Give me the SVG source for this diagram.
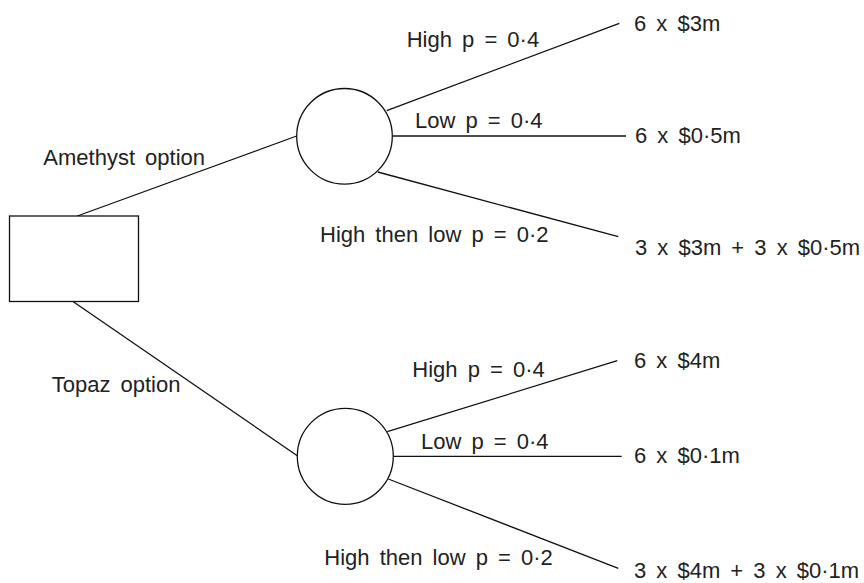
<svg xmlns="http://www.w3.org/2000/svg" width="864" height="583" viewBox="0 0 864 583">
<style>
.s{fill:#fff;stroke:#111;stroke-width:1.3}
.c line{stroke:#111;stroke-width:1.3}
text{font-family:"Liberation Sans",Arial,sans-serif;font-size:22px;fill:#222;word-spacing:4px}
</style>
<rect width="864" height="583" fill="#fff"/>
<g class="c" id="connectors">
<line x1="77.3" y1="216" x2="296.7" y2="136"/>
<line x1="73.3" y1="301.7" x2="297.3" y2="455.7"/>
<line x1="386.7" y1="110.7" x2="619.3" y2="23.3"/>
<line x1="392.5" y1="136" x2="626" y2="136"/>
<line x1="377.7" y1="172" x2="618.3" y2="236.7"/>
<line x1="387.3" y1="431.7" x2="617.3" y2="360.7"/>
<line x1="393.3" y1="456.3" x2="621.7" y2="456.3"/>
<line x1="388.3" y1="479" x2="618.3" y2="568.3"/>
</g>
<g id="decision"><rect class="s" x="9.5" y="216" width="129" height="85.5"/></g>
<g id="chance1"><circle class="s" cx="344.5" cy="136.3" r="47.8"/></g>
<g id="chance2"><circle class="s" cx="345.3" cy="456.3" r="48"/></g>
<g id="labels">
<text x="43.3" y="165">Amethyst option</text>
<text x="51.7" y="391.7">Topaz option</text>
<text x="406.7" y="46.7">High p = 0·4</text>
<text x="415" y="128">Low p = 0·4</text>
<text x="320" y="241.7">High then low p = 0·2</text>
<text x="412.3" y="377.3">High p = 0·4</text>
<text x="421" y="449.3">Low p = 0·4</text>
<text x="324.3" y="565">High then low p = 0·2</text>
</g>
<g id="outcomes">
<text x="634" y="31">6 x $3m</text>
<text x="635" y="143">6 x $0·5m</text>
<text x="635" y="255">3 x $3m + 3 x $0·5m</text>
<text x="634" y="368">6 x $4m</text>
<text x="634" y="463.3">6 x $0·1m</text>
<text x="634" y="578">3 x $4m + 3 x $0·1m</text>
</g>
</svg>
